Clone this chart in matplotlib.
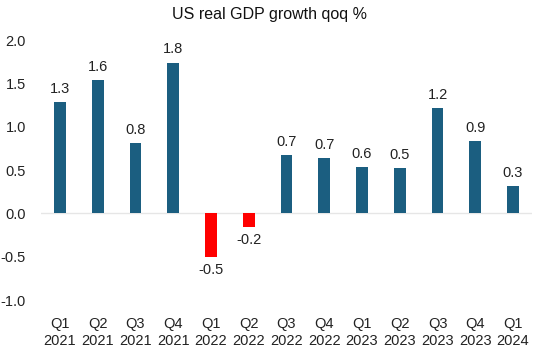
import matplotlib
matplotlib.use("Agg")
import matplotlib.pyplot as plt

# Data
quarters = ["Q1\n2021", "Q2\n2021", "Q3\n2021", "Q4\n2021",
            "Q1\n2022", "Q2\n2022", "Q3\n2022", "Q4\n2022",
            "Q1\n2023", "Q2\n2023", "Q3\n2023", "Q4\n2023", "Q1\n2024"]
growth = [1.29, 1.54, 0.81, 1.74, -0.50, -0.16, 0.67, 0.64, 0.54, 0.52, 1.22, 0.84, 0.32]
labels = ["1.3", "1.6", "0.8", "1.8", "-0.5", "-0.2", "0.7", "0.7", "0.6", "0.5", "1.2", "0.9", "0.3"]

BLUE = "#1b5e80"
RED = "#ff0000"

plt.rcParams["font.family"] = ["Liberation Sans", "DejaVu Sans"]

fig = plt.figure(figsize=(5.4, 3.51), dpi=100)
ax = fig.add_axes([0.076, 0.145, 0.909, 0.741])

x = range(len(growth))
colors = [BLUE if v >= 0 else RED for v in growth]
ax.bar(x, growth, width=0.31, color=colors, zorder=3)

# value labels
for i, (v, lab) in enumerate(zip(growth, labels)):
    if v >= 0:
        ax.text(i, v + 0.07, lab, ha="center", va="bottom", fontsize=10.5, color="#222222")
    else:
        ax.text(i, v - 0.07, lab, ha="center", va="top", fontsize=10.5, color="#222222")

ax.axhline(0, color="#e6e6e6", linewidth=1, zorder=1)
ax.set_xlim(-0.5, len(growth) - 0.5)
ax.set_ylim(-1.0, 2.0)
ax.set_yticks([-1.0, -0.5, 0.0, 0.5, 1.0, 1.5, 2.0])
ax.set_yticklabels(["-1.0", "-0.5", "0.0", "0.5", "1.0", "1.5", "2.0"])
ax.set_xticks(list(x))
ax.set_xticklabels(quarters, linespacing=1.25)
ax.tick_params(axis="both", length=0, labelsize=10.5, colors="#222222")
ax.tick_params(axis="y", pad=11)
ax.tick_params(axis="x", pad=12)
for s in ax.spines.values():
    s.set_visible(False)

fig.suptitle("US real GDP growth qoq %", fontsize=11.5, y=0.98, x=0.5, color="#111111")

fig.savefig("out.png", dpi=100)
